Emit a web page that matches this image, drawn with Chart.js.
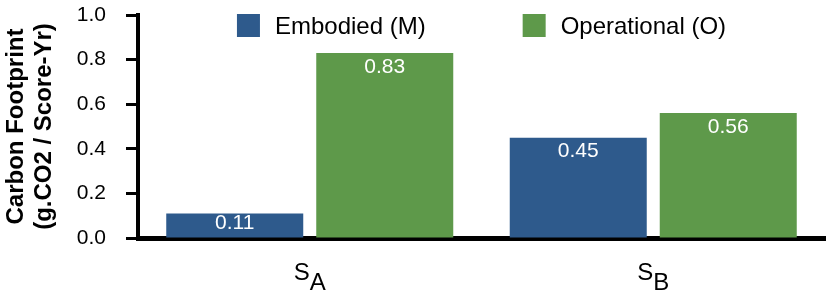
<!DOCTYPE html>
<html><head><meta charset="utf-8">
<script src="https://cdn.jsdelivr.net/npm/chart.js@4.4.0/dist/chart.umd.min.js"></script>
<style>html,body{margin:0;padding:0;background:#fff;} #wrap{width:830px;height:300px;}</style>
</head><body><div id="wrap"><canvas id="c" width="830" height="300"></canvas></div>
<script>
const categories = ['S_A', 'S_B'];
const seriesNames = ['Embodied (M)', 'Operational (O)'];
const embodied = [0.11, 0.45];
const operational = [0.83, 0.56];
const yTicks = [0.0, 0.2, 0.4, 0.6, 0.8, 1.0];
const yTitle = ['Carbon Footprint', '(g.CO2 / Score-Yr)'];
const seriesColors = ['#2E5A8C', '#5E994A'];
const FONT = "'Liberation Sans', Arial, Helvetica, sans-serif";

const valueLabels = {
  id: 'valueLabels',
  afterDatasetsDraw(chart) {
    const ctx = chart.ctx;
    ctx.save();
    ctx.font = '21px ' + FONT;
    ctx.fillStyle = '#ffffff';
    ctx.textAlign = 'center';
    ctx.textBaseline = 'middle';
    chart.data.datasets.forEach((ds, di) => {
      const meta = chart.getDatasetMeta(di);
      meta.data.forEach((el, i) => {
        const y = Math.min(el.y + 14, el.base - 14.5);
        ctx.fillText(ds.data[i].toFixed(2), el.x, y);
      });
    });
    ctx.restore();
  }
};

const subLabels = {
  id: 'subLabels',
  afterDraw(chart) {
    const ctx = chart.ctx;
    const xs = chart.scales.x;
    ctx.save();
    ctx.font = '24px ' + FONT;
    ctx.fillStyle = '#000';
    ctx.textBaseline = 'alphabetic';
    ctx.textAlign = 'left';
    categories.forEach((c, i) => {
      const [base, sub] = c.split('_');
      const x = xs.getPixelForValue(i);
      const wb = ctx.measureText(base).width;
      const ws = ctx.measureText(sub).width;
      const start = x - (wb + ws) / 2;
      ctx.fillText(base, start, 280);
      ctx.fillText(sub, start + wb, 290);
    });
    ctx.restore();
  }
};

const customLegend = {
  id: 'customLegend',
  afterDraw(chart) {
    const ctx = chart.ctx;
    const ca = chart.chartArea;
    ctx.save();
    ctx.font = '24px ' + FONT;
    const box = 23, gapText = 15, gapItem = 97;
    const items = chart.data.datasets.map(ds => ({
      label: ds.label, color: ds.backgroundColor,
      w: box + gapText + ctx.measureText(ds.label).width
    }));
    const total = items.reduce((a, it) => a + it.w, 0) + gapItem * (items.length - 1);
    let x = (ca.left + ca.right) / 2 - total / 2;
    items.forEach(it => {
      ctx.fillStyle = it.color;
      ctx.fillRect(x, 14, box, box);
      ctx.fillStyle = '#000';
      ctx.textAlign = 'left';
      ctx.textBaseline = 'middle';
      ctx.fillText(it.label, x + box + gapText, 27);
      x += it.w + gapItem;
    });
    ctx.restore();
  }
};

new Chart(document.getElementById('c'), {
  type: 'bar',
  data: {
    labels: categories,
    datasets: [
      { label: seriesNames[0], data: embodied, backgroundColor: seriesColors[0], borderWidth: 0,
        categoryPercentage: 0.8734, barPercentage: 0.9133 },
      { label: seriesNames[1], data: operational, backgroundColor: seriesColors[1], borderWidth: 0,
        categoryPercentage: 0.8734, barPercentage: 0.9133 }
    ]
  },
  options: {
    responsive: false,
    devicePixelRatio: 1,
    animation: false,
    layout: { padding: { left: 0, right: 5, top: 15, bottom: 0 } },
    plugins: { legend: { display: false }, tooltip: { enabled: false } },
    scales: {
      x: {
        z: 1,
        grid: { display: false },
        border: { display: true, color: '#000', width: 5 },
        ticks: { display: false },
        afterFit(s) { s.height = 62; s.paddingLeft = 0; s.paddingRight = 0; }
      },
      y: {
        z: 1,
        min: 0, max: 1,
        afterBuildTicks(s) { s.ticks = yTicks.map(v => ({ value: v })); },
        ticks: {
          callback: v => Number(v).toFixed(1),
          font: { family: FONT, size: 21 },
          color: '#000',
          padding: 20
        },
        grid: { display: true, drawOnChartArea: false, drawTicks: true, tickLength: 12,
                tickWidth: 3, tickColor: '#000', color: '#000' },
        border: { display: true, color: '#000', width: 4 },
        title: { display: true, text: yTitle, color: '#000',
                 font: { family: FONT, size: 24, weight: 'bold', lineHeight: 1.2 },
                 padding: { top: 1.5, bottom: 0 } },
        afterFit(s) { s.width = 138; s.paddingTop = 0; s.paddingBottom = 0; }
      }
    }
  },
  plugins: [valueLabels, subLabels, customLegend]
});
</script>
</body></html>
